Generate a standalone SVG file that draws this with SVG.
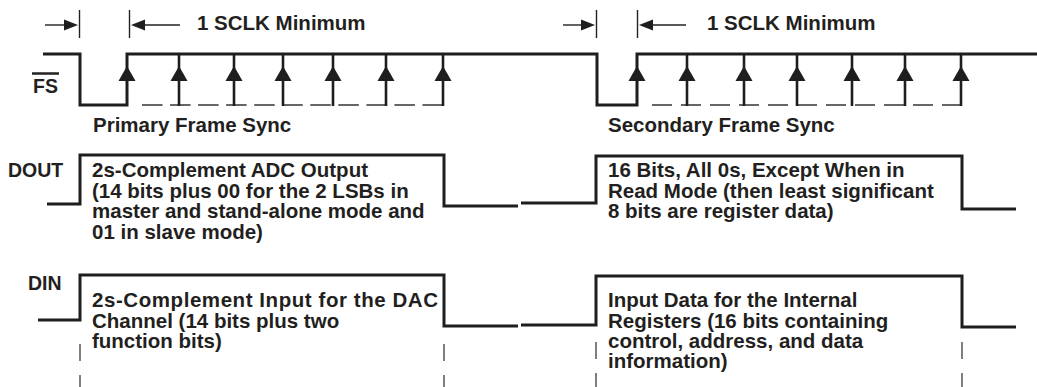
<svg xmlns="http://www.w3.org/2000/svg" width="1037" height="387" viewBox="0 0 1037 387">
<style>
  .t { font-family: "Liberation Sans", Arial, sans-serif; font-weight: bold; font-size: 20.5px; fill: #231f20; }
  .lbl { font-family: "Liberation Sans", Arial, sans-serif; font-weight: bold; font-size: 19.5px; fill: #231f20; }
  .w { fill: none; stroke: #1e1e1e; stroke-width: 3; stroke-linejoin: miter; stroke-linecap: butt; }
  .clk { stroke: #1e1e1e; stroke-width: 2.6; }
  .dash { stroke: #666; stroke-width: 1.8; fill: none; }
  .thin { stroke: #222; stroke-width: 1.4; fill: none; }
  .ah { fill: #1e1e1e; }
</style>
<defs>
  <path id="up" class="ah" d="M0,-9 L8.5,6 L-8.5,6 Z"/>
  <path id="rt" class="ah" d="M0,0 L-14,-5.5 L-14,5.5 Z"/>
  <path id="lt" class="ah" d="M0,0 L14,-5.5 L14,5.5 Z"/>
</defs>
<rect width="1037" height="387" fill="#fff"/>

<g id="timing-markers">
  <line class="thin" x1="45" y1="25" x2="66" y2="25"/>
  <use href="#rt" x="78" y="25"/>
  <line class="thin" x1="79.5" y1="10" x2="79.5" y2="38"/>
  <line class="thin" x1="129.5" y1="10" x2="129.5" y2="38"/>
  <use href="#lt" x="131" y="25"/>
  <line class="thin" x1="143" y1="25" x2="180" y2="25"/>
  <text class="t" x="197" y="30">1 SCLK Minimum</text>

  <line class="thin" x1="563" y1="25" x2="584" y2="25"/>
  <use href="#rt" x="595" y="25"/>
  <line class="thin" x1="596.5" y1="10" x2="596.5" y2="38"/>
  <line class="thin" x1="637.5" y1="10" x2="637.5" y2="38"/>
  <use href="#lt" x="639" y="25"/>
  <line class="thin" x1="651" y1="25" x2="686" y2="25"/>
  <text class="t" x="707" y="30">1 SCLK Minimum</text>
</g>

<g id="fs">
  <text class="lbl" x="33" y="92.5">FS</text>
  <line x1="32" y1="73.5" x2="59" y2="73.5" stroke="#222" stroke-width="2.5"/>
  <path class="w" d="M43,54 H80 V105 H127 V54 H597 V105 H637 V54 H1037"/>
  <line class="dash" x1="142" y1="105" x2="443" y2="105" stroke-dasharray="20.5 7.55"/>
  <line class="dash" x1="652" y1="105" x2="962" y2="105" stroke-dasharray="20 9"/>
  <g id="clk-primary">
    <line class="clk" x1="179" y1="54" x2="179" y2="106"/>
    <line class="clk" x1="234" y1="54" x2="234" y2="106"/>
    <line class="clk" x1="283" y1="54" x2="283" y2="106"/>
    <line class="clk" x1="333" y1="54" x2="333" y2="106"/>
    <line class="clk" x1="386" y1="54" x2="386" y2="106"/>
    <line class="clk" x1="443" y1="54" x2="443" y2="106"/>
    <use href="#up" x="127" y="75"/>
    <use href="#up" x="179" y="75"/>
    <use href="#up" x="234" y="75"/>
    <use href="#up" x="283" y="75"/>
    <use href="#up" x="333" y="75"/>
    <use href="#up" x="386" y="75"/>
    <use href="#up" x="443" y="75"/>
  </g>
  <g id="clk-secondary">
    <line class="clk" x1="687" y1="54" x2="687" y2="106"/>
    <line class="clk" x1="744" y1="54" x2="744" y2="106"/>
    <line class="clk" x1="797" y1="54" x2="797" y2="106"/>
    <line class="clk" x1="852" y1="54" x2="852" y2="106"/>
    <line class="clk" x1="905" y1="54" x2="905" y2="106"/>
    <line class="clk" x1="961" y1="54" x2="961" y2="106"/>
    <use href="#up" x="637" y="75"/>
    <use href="#up" x="687" y="75"/>
    <use href="#up" x="744" y="75"/>
    <use href="#up" x="797" y="75"/>
    <use href="#up" x="852" y="75"/>
    <use href="#up" x="905" y="75"/>
    <use href="#up" x="961" y="75"/>
  </g>
  <text class="t" x="93" y="132">Primary Frame Sync</text>
  <text class="t" x="608" y="132">Secondary Frame Sync</text>
</g>

<g id="dout">
  <text class="lbl" x="8" y="177">DOUT</text>
  <path class="w" d="M47,204 H80 V155 H444 V206 H518"/>
  <path class="w" d="M521,203 H596 V156 H962 V209 H1016"/>
  <text class="t" x="92" y="177">2s-Complement ADC Output</text>
  <text class="t" x="92" y="197.5">(14 bits plus 00 for the 2 LSBs in</text>
  <text class="t" x="92" y="218">master and stand-alone mode and</text>
  <text class="t" x="92" y="238.5">01 in slave mode)</text>
  <text class="t" x="608" y="177">16 Bits, All 0s, Except When in</text>
  <text class="t" x="608" y="197.5">Read Mode (then least significant</text>
  <text class="t" x="608" y="218">8 bits are register data)</text>
</g>

<g id="din">
  <text class="lbl" x="28" y="290">DIN</text>
  <path class="w" d="M38,320 H80 V275 H444 V326 H518"/>
  <path class="w" d="M521,325 H596 V276 H962 V327 H1016"/>
  <text class="t" x="92" y="307" textLength="346" lengthAdjust="spacing">2s-Complement Input for the DAC</text>
  <text class="t" x="92" y="327.5">Channel (14 bits plus two</text>
  <text class="t" x="92" y="348">function bits)</text>
  <text class="t" x="608" y="307">Input Data for the Internal</text>
  <text class="t" x="608" y="327.5">Registers (16 bits containing</text>
  <text class="t" x="608" y="348">control, address, and data</text>
  <text class="t" x="608" y="368">information)</text>
  <g id="guides" stroke="#555" stroke-width="1.5">
    <line x1="80" y1="344" x2="80" y2="361"/>
    <line x1="80" y1="375" x2="80" y2="387"/>
    <line x1="444" y1="344" x2="444" y2="361"/>
    <line x1="444" y1="375" x2="444" y2="387"/>
    <line x1="596" y1="342" x2="596" y2="359"/>
    <line x1="596" y1="373" x2="596" y2="387"/>
    <line x1="962" y1="342" x2="962" y2="359"/>
    <line x1="962" y1="373" x2="962" y2="387"/>
  </g>
</g>
</svg>
